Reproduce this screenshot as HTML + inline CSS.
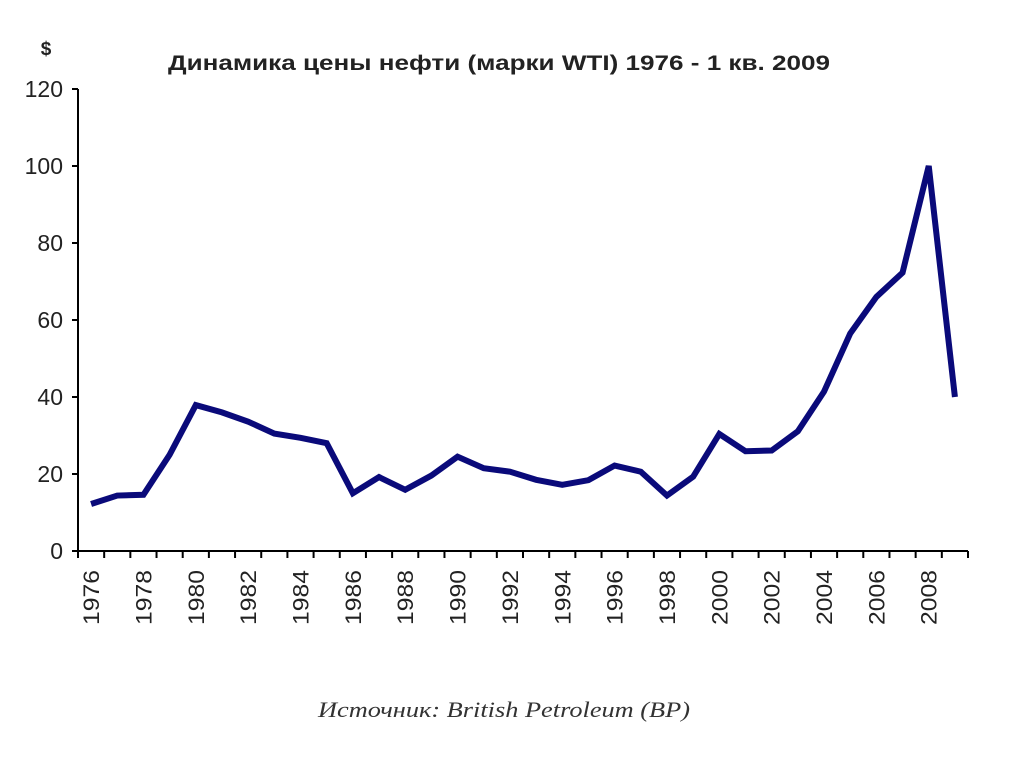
<!DOCTYPE html>
<html><head><meta charset="utf-8"><style>
body{margin:0;background:#fff;width:1024px;height:767px;overflow:hidden}
svg{display:block;font-family:"Liberation Sans",sans-serif}
</style></head><body>
<svg id="chart" width="1024" height="767">
<text x="168" y="70" font-size="21" font-weight="bold" fill="#222" textLength="662" lengthAdjust="spacingAndGlyphs">Динамика цены нефти (марки WTI) 1976 - 1 кв. 2009</text>
<text x="46" y="55" text-anchor="middle" font-size="19" font-weight="bold" fill="#222">$</text>
<text x="318" y="717" font-size="22" font-style="italic" fill="#333" font-family="Liberation Serif,serif" textLength="372" lengthAdjust="spacingAndGlyphs">Источник: British Petroleum (BP)</text>
<g id="axes"></g>
</svg>
<script>
const years=[1976,1977,1978,1979,1980,1981,1982,1983,1984,1985,1986,1987,1988,1989,1990,1991,1992,1993,1994,1995,1996,1997,1998,1999,2000,2001,2002,2003,2004,2005,2006,2007,2008,2009];
const prices=[12.2,14.4,14.6,25,37.9,36,33.6,30.5,29.4,28,15,19.2,15.9,19.6,24.5,21.5,20.6,18.5,17.2,18.4,22.2,20.6,14.4,19.3,30.4,25.9,26.1,31.1,41.4,56.5,66,72.3,100,40];
const yTicks=[0,20,40,60,80,100,120];
const NS="http://www.w3.org/2000/svg";
const g=document.getElementById('axes');
const x0=78,x1=968,y0=551,yTop=89,yMax=120;
const step=(x1-x0)/years.length;
const xs=i=>x0+step*(i+0.5);
const ys=v=>y0-(v/yMax)*(y0-yTop);
function mk(t,a){const e=document.createElementNS(NS,t);for(const k in a)e.setAttribute(k,a[k]);g.appendChild(e);return e;}
let e=mk('line',{x1:x0,y1:yTop,x2:x0,y2:y0,stroke:'#000','stroke-width':2});


e=mk('line',{x1:x0,y1:y0,x2:x1,y2:y0,stroke:'#000','stroke-width':2});


yTicks.forEach(v=>{
  mk('line',{x1:x0-6,y1:ys(v),x2:x0,y2:ys(v),stroke:'#000','stroke-width':2});
  const t=mk('text',{x:x0-15,y:ys(v)+8,'text-anchor':'end','font-size':23,fill:'#222'});
  t.textContent=v;
  
  
});
for(let i=0;i<=years.length;i++){
  mk('line',{x1:x0+step*i,y1:y0,x2:x0+step*i,y2:y0+7,stroke:'#000','stroke-width':2});
}
years.forEach((y,i)=>{
  if(y%2)return;
  const cx=xs(i)+8,cy=570;
  const t=mk('text',{x:cx,y:cy,'text-anchor':'end','font-size':22,fill:'#222',textLength:55,lengthAdjust:'spacingAndGlyphs',transform:`rotate(-90 ${cx} ${cy})`});
  t.textContent=y;
  
  
});
const p=mk('polyline',{points:prices.map((v,i)=>xs(i)+','+ys(v)).join(' '),fill:'none',stroke:'#0a0a7a','stroke-width':6,'stroke-linejoin':'miter','stroke-miterlimit':3});


</script>
</body></html>
